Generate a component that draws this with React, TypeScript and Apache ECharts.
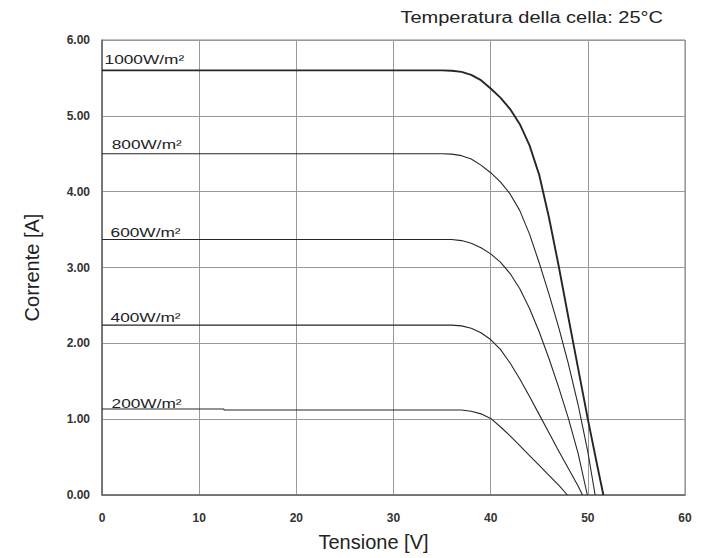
import React, { useEffect, useRef } from "react";
import * as echarts from "echarts";

const titleText = "Temperatura della cella: 25°C";
const irradianceLabels = ["1000W/m²", "800W/m²", "600W/m²", "400W/m²", "200W/m²"];

const v1000 = [0, 30, 35, 36, 37, 38, 39, 40, 41, 42, 43, 44, 45, 46, 47, 48, 49, 50, 51, 51.6];
const i1000 = [5.6, 5.6, 5.6, 5.595, 5.58, 5.54, 5.47, 5.36, 5.24, 5.09, 4.89, 4.61, 4.22, 3.66, 3.02, 2.34, 1.67, 1.0, 0.37, 0];

const v800 = [0, 30, 35, 36, 37, 38, 39, 40, 41, 42, 43, 44, 45, 46, 47, 48, 49, 50, 50.75];
const i800 = [4.5, 4.5, 4.5, 4.495, 4.475, 4.43, 4.35, 4.25, 4.13, 3.97, 3.75, 3.44, 3.06, 2.65, 2.21, 1.73, 1.19, 0.57, 0];

const v600 = [0, 30, 36, 37, 38, 39, 40, 41, 42, 43, 44, 45, 46, 47, 48, 49, 49.95];
const i600 = [3.37, 3.37, 3.37, 3.355, 3.32, 3.26, 3.18, 3.07, 2.92, 2.72, 2.46, 2.15, 1.8, 1.42, 1.01, 0.55, 0];

const v400 = [0, 30, 36, 37, 38, 39, 40, 41, 42, 43, 44, 45, 46, 47, 48, 49, 49.45];
const i400 = [2.24, 2.24, 2.24, 2.23, 2.2, 2.14, 2.05, 1.92, 1.74, 1.53, 1.3, 1.06, 0.82, 0.58, 0.35, 0.12, 0];

const v200 = [0, 12.5, 12.6, 30, 37, 38, 39, 40, 41, 42, 43, 44, 45, 46, 47, 47.9];
const i200 = [1.135, 1.135, 1.12, 1.12, 1.12, 1.105, 1.07, 1.01, 0.9, 0.78, 0.65, 0.52, 0.39, 0.26, 0.13, 0];

// caption anchor points (voltage, current) for the irradiance labels
const labelV = [0.26, 1.0, 0.88, 0.88, 0.98];
const labelI = [5.74, 4.625, 3.47, 2.34, 1.215];

const xTicks = [0, 10, 20, 30, 40, 50, 60];
const yTicks = [0, 1, 2, 3, 4, 5, 6];

const curves = [
  { v: v1000, i: i1000, w: 1.9 },
  { v: v800, i: i800, w: 1.1 },
  { v: v600, i: i600, w: 1.1 },
  { v: v400, i: i400, w: 1.1 },
  { v: v200, i: i200, w: 1.1 },
];

export default function App() {
  const ref = useRef<HTMLDivElement>(null);
  useEffect(() => {
    if (!ref.current) return;
    const chart = echarts.init(ref.current, null, { renderer: "svg" });
    const font = "'Liberation Sans', Arial, sans-serif";
    const series: any[] = curves.map((c) => ({
      type: "line",
      data: c.v.map((x, j) => [x, c.i[j]]),
      showSymbol: false,
      smooth: false,
      lineStyle: { color: "#262626", width: c.w, join: "round" },
      z: 3,
    }));
    chart.setOption({
      animation: false,
      backgroundColor: "#fff",
      grid: {
        left: 102,
        right: 19,
        top: 40,
        bottom: 63,
        show: true,
        borderColor: "#808080",
        borderWidth: 1,
      },
      xAxis: {
        type: "value",
        min: 0,
        max: 60,
        interval: 10,
        name: "Tensione [V]",
        nameLocation: "middle",
        nameGap: 37,
        nameTextStyle: { fontSize: 20, color: "#222", fontFamily: font, padding: [0, 40, 0, 0] },
        axisLine: { show: true, lineStyle: { color: "#666", width: 1.5 } },
        axisTick: { show: false },
        axisLabel: {
          margin: 17,
          fontSize: 12,
          fontWeight: "bold",
          color: "#333",
          fontFamily: font,
          formatter: (v: number) => (xTicks.includes(v) ? String(v) : ""),
        },
        splitLine: { show: true, lineStyle: { color: "#999", width: 1 } },
      },
      yAxis: {
        type: "value",
        min: 0,
        max: 6,
        interval: 1,
        name: "Corrente [A]",
        nameLocation: "middle",
        nameGap: 60,
        nameTextStyle: { fontSize: 20, color: "#222", fontFamily: font },
        axisLine: { show: true, lineStyle: { color: "#666", width: 1.5 } },
        axisTick: { show: false },
        axisLabel: {
          margin: 12,
          fontSize: 12,
          fontWeight: "bold",
          color: "#333",
          fontFamily: font,
          formatter: (v: number) => (yTicks.includes(v) ? v.toFixed(2) : ""),
        },
        splitLine: { show: true, lineStyle: { color: "#999", width: 1 } },
      },
      series,
    });
    const captions = irradianceLabels.map((t, k) => {
      const p = chart.convertToPixel({ gridIndex: 0 }, [labelV[k], labelI[k]]) as number[];
      return {
        type: "text",
        x: p[0],
        y: p[1],
        scaleX: 1.33,
        z: 10,
        style: {
          text: t,
          fontSize: 13,
          fontFamily: font,
          fill: "#222",
          align: "left",
          verticalAlign: "middle",
        },
      };
    });
    chart.setOption({
      graphic: [
        {
          type: "text",
          x: 663,
          y: 18,
          scaleX: 1.25,
          style: {
            text: titleText,
            fontSize: 16,
            fontFamily: font,
            fill: "#222",
            align: "right",
            verticalAlign: "middle",
          },
        },
        ...captions,
      ],
    });
    return () => chart.dispose();
  }, []);
  return <div ref={ref} style={{ width: 704, height: 558, position: "absolute", left: 0, top: 0 }} />;
}
